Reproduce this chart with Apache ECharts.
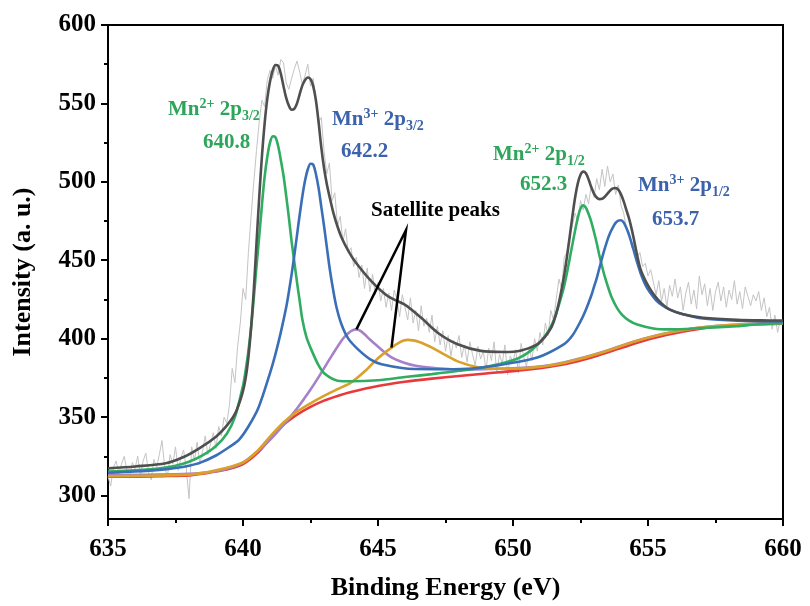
<!DOCTYPE html>
<html>
<head>
<meta charset="utf-8">
<script src="https://cdn.jsdelivr.net/npm/echarts@6/dist/echarts.min.js"></script>
<style>
  html, body { margin: 0; padding: 0; background: #fff; }
  #chart { width: 810px; height: 606px; }
</style>
</head>
<body>
<div id="chart"></div>
<script>
// Mn 2p XPS spectrum: measured counts, Shirley background and fitted components.

// Measured spectrum, 0.1 eV steps starting at 635.0 eV
const rawStart = 635.0;
const rawStep = 0.1;
const rawIntensity = [
  312, 306, 318, 322, 314, 320, 325, 316, 311, 321,
  317, 325, 313, 322, 327, 315, 310, 323, 318, 326,
  335, 318, 312, 326, 320, 331, 316, 324, 329, 317,
  298, 331, 322, 334, 320, 328, 338, 326, 333, 340,
  330, 344, 338, 350, 346, 358, 381, 372, 395, 410,
  432, 425, 455, 478, 500, 520, 538, 552, 548, 565,
  571, 566, 574, 568, 578, 576, 563, 559, 566, 572,
  577, 570, 562, 568, 575, 561, 566, 552, 538, 541,
  520, 505, 512, 488, 493, 472, 478, 462, 470, 455,
  458, 446, 452, 439, 447, 432, 445, 430, 441, 428,
  436, 424, 432, 420, 429, 418, 431, 425, 414, 428,
  420, 412, 426, 410, 418, 405, 421, 408, 413, 404,
  415, 398, 408, 396, 405, 392, 402, 389, 399, 394,
  402, 388, 396, 385, 398, 390, 383, 395, 387, 392,
  380, 394, 386, 398, 378, 390, 384, 396, 377, 389,
  385, 393, 378, 397, 388, 382, 395, 386, 400, 392,
  404, 396, 410, 402, 418, 412, 425, 438, 432, 452,
  455, 466, 472, 480, 475, 488, 482, 492, 486, 498,
  490, 502, 495, 508, 497, 510, 500, 505, 492, 498,
  485, 480, 470, 468, 458, 462, 452, 455, 446, 448,
  440, 444, 436, 428, 437, 424, 432, 420, 434, 427,
  438, 426, 433, 418, 429, 436, 422, 431, 419, 440,
  428, 435, 421, 432, 418, 430, 436, 424, 433, 420,
  431, 425, 437, 422, 430, 419, 433, 427, 421, 428,
  424, 430, 418, 426, 414, 420, 406, 415, 404, 412,
  410
];

// Shirley background
const bgEnergy = [635, 636, 637, 638, 638.5, 639, 639.5, 640, 640.5, 641, 641.5, 642, 642.5, 643, 643.5, 644, 645, 646, 647, 648, 649, 650, 651, 652, 653, 654, 655, 656, 657, 658, 659, 660];
const bgIntensity = [312, 312, 312.3, 312.8, 313.8, 315.3, 317, 320, 326.5, 336, 345, 351.5, 356.5, 360.5, 363.5, 366, 369.8, 372.5, 374.5, 376.2, 377.8, 379.3, 381.2, 384, 388.5, 394, 399.5, 403.5, 406.5, 408.2, 409.2, 409.6];

// Satellite peak 1 (purple)
const sat1Energy = [635, 638, 639, 639.5, 640, 640.5, 641, 641.5, 642, 642.4,
  642.8, 643.3, 643.7, 643.9, 644.05, 644.2, 644.35, 644.5, 644.7, 644.9,
  645.5, 646, 646.4, 647, 647.6, 648.5, 649.5, 650.5, 651.5, 652.5,
  653.5, 654.5, 655.5, 656.5, 657.5, 658.5, 660];
const sat1Intensity = [313, 313.8, 315.5, 317.5, 321, 327.5, 335.5, 345, 355.5, 365,
  375.5, 389.5, 400, 403.5, 405.3, 405.9, 405, 402.8, 399.5, 396.4,
  388, 384.5, 382.7, 381.4, 380.6, 380.4, 380.8, 381.5, 383.5, 387.5,
  392.5, 398.2, 402.8, 406, 408, 409.2, 409.8];

// Satellite peak 2 (orange)
const sat2Energy = [635, 638, 639, 640, 640.5, 641, 641.5, 642, 642.5, 643,
  643.5, 644, 644.5, 645, 645.5, 645.8, 645.95, 646.1, 646.3, 646.5,
  646.75, 647, 647.5, 648, 648.7, 649.5, 650.5, 651.5, 652.5, 653.5,
  654.5, 655.5, 656.5, 657.5, 658.5, 660];
const sat2Intensity = [312.3, 313.3, 316, 321, 327.8, 337.5, 346.5, 353.5, 358.8, 363.5,
  367.8, 372, 379, 387.5, 394.3, 397.6, 398.8, 399.2, 398.9, 398,
  396.3, 394.3, 389.5, 385.2, 381.8, 380.8, 381.2, 383.2, 387.2, 392.3,
  398.2, 402.8, 406, 408, 409.2, 409.9];

// Mn2+ 2p3/2 and 2p1/2 component (green)
const mn2Energy = [635, 636, 637, 637.5, 638, 638.5, 639, 639.4, 639.7, 640.0,
  640.1, 640.2, 640.3, 640.4, 640.5, 640.6, 640.7, 640.8, 640.9, 641.0,
  641.1, 641.2, 641.3, 641.4, 641.5, 641.6, 641.7, 641.8, 641.9, 642.0,
  642.1, 642.2, 642.35, 642.55, 642.8, 643.04, 643.5, 644, 645, 646,
  647, 648, 649, 649.7, 650.2, 650.65, 651.0, 651.2, 651.4, 651.6,
  651.8, 651.9, 652.0, 652.1, 652.2, 652.3, 652.4, 652.5, 652.6, 652.7,
  652.8, 652.9, 653.0, 653.1, 653.2, 653.3, 653.4, 653.5, 653.65, 653.85,
  654.05, 654.3, 654.6, 655.2, 655.81, 657, 658.3, 659, 660];
const mn2Intensity = [315.2, 316, 317.5, 319, 321.5, 325.5, 331.5, 339.4, 350, 370,
  380, 392, 407, 426, 446, 465, 485, 503, 516, 525,
  529, 528.5, 523, 514, 504, 491, 477, 462, 449, 436,
  424, 412, 401, 392.2, 383, 377.4, 373.2, 372.8, 373.5, 375.5,
  377.4, 379.5, 382, 384.8, 387.5, 392.2, 398, 402, 407.5, 416,
  427.5, 434, 442, 451, 460, 469, 477, 483, 485, 483.5,
  479.5, 474.5, 468, 461, 453, 446, 439.5, 434, 426.5, 419.6,
  415, 411.5, 409, 406.5, 405.9, 406.8, 408, 409, 409.8];

// Mn3+ 2p3/2 and 2p1/2 component (blue)
const mn3Energy = [635, 636, 637, 637.5, 638, 638.4, 639, 639.5, 639.85, 640.2,
  640.58, 641.0, 641.2, 641.4, 641.6, 641.7, 641.8, 641.9, 642.0, 642.1,
  642.2, 642.3, 642.4, 642.5, 642.6, 642.7, 642.8, 642.9, 643.0, 643.1,
  643.2, 643.3, 643.45, 643.65, 643.9, 644.27, 644.7, 645.13, 646.36, 647.5,
  648.5, 649.67, 650.9, 651.88, 652.2, 652.5, 652.7, 652.9, 653.0, 653.1,
  653.2, 653.3, 653.4, 653.5, 653.6, 653.7, 653.8, 653.9, 654.0, 654.1,
  654.2, 654.3, 654.4, 654.5, 654.6, 654.75, 654.9, 655.07, 655.3, 655.55,
  655.81, 656.3, 657.04, 658.3, 659.5, 660];
const mn3Intensity = [314.5, 315.3, 316.5, 317.5, 319, 320.8, 325.5, 331, 335.5, 344,
  356.3, 378, 390, 404, 420, 430, 441, 453, 466, 479,
  491, 501, 508, 511.5, 511, 505, 496, 484, 472, 459,
  446, 435, 421, 409, 400, 393, 387, 383.7, 380.6, 380.5,
  381, 383.7, 388, 396.4, 402, 411, 418.5, 427.5, 433, 438.5,
  445, 451.5, 457.5, 463, 467.5, 471, 473.8, 475.3, 475.5, 474,
  470.5, 466, 460.5, 454.5, 448.5, 440.5, 434.5, 429.5, 424.5, 421,
  418.5, 415.5, 412.8, 411.5, 411, 411];

// Fit envelope (dark grey)
const envEnergy = [635, 636, 637.14, 637.8, 638.38, 639, 639.36, 639.7, 639.97, 640.1,
  640.2, 640.3, 640.4, 640.5, 640.6, 640.7, 640.8, 640.9, 641.0, 641.1,
  641.2, 641.3, 641.4, 641.5, 641.6, 641.7, 641.8, 641.9, 642.0, 642.1,
  642.2, 642.3, 642.4, 642.5, 642.6, 642.7, 642.8, 642.9, 643.0, 643.1,
  643.2, 643.35, 643.5, 643.65, 643.9, 644.15, 644.76, 645.37, 645.99, 646.6,
  647.21, 647.95, 648.81, 649.67, 650.3, 650.9, 651.2, 651.4, 651.5, 651.6,
  651.7, 651.8, 651.9, 652.0, 652.1, 652.2, 652.3, 652.4, 652.5, 652.6,
  652.7, 652.8, 652.9, 653.0, 653.1, 653.2, 653.3, 653.4, 653.5, 653.6,
  653.7, 653.8, 653.9, 654.0, 654.1, 654.2, 654.3, 654.4, 654.5, 654.6,
  654.71, 654.85, 655.0, 655.2, 655.5, 655.81, 656.3, 657.04, 658.3, 659.5,
  660];
const envIntensity = [317.3, 318.5, 320.5, 324.5, 330, 337.5, 343.7, 352, 364.7, 375,
  388, 407, 431, 461, 490, 516, 537, 553, 564, 571,
  574.5, 574, 569, 561, 553.5, 548.5, 546, 546.5, 550, 556,
  561.5, 565, 566.5, 565.5, 561, 552, 538, 522, 509, 499,
  491, 480, 471.5, 464.5, 456, 449.2, 436.5, 427, 421.7, 413.3,
  403.8, 396.4, 392.2, 391.5, 392.5, 396.4, 401.5, 406.5, 410.5, 416,
  423, 431.5, 441, 452.5, 465, 478, 490, 499, 504.5, 506.5,
  505.5, 501.5, 496.5, 492.5, 490, 489, 489.2, 490.5, 492.5, 494.5,
  495.8, 496, 495, 492, 487.5, 482, 476.5, 469.5, 461.5, 453,
  445, 439, 434, 428.5, 422.5, 418.5, 415.5, 413.3, 412, 411.6,
  411.5];

// Axis ticks
const xTicksStep = 5;
const yTickLabels = [300, 350, 400, 450, 500, 550, 600];
const yMinorTicks = [325, 375, 425, 475, 525, 575];

const SERIF = '"Times New Roman", "Liberation Serif", serif';
const GREEN = '#2ea55a';
const BLUE = '#3b62ab';

const zip = (xs, ys) => xs.map((x, i) => [x, ys[i]]);
const rawData = rawIntensity.map((v, i) => [+(rawStart + i * rawStep).toFixed(1), v]);

function fitSeries(name, xs, ys, color, width, z) {
  return {
    name, type: 'line', data: zip(xs, ys), smooth: 0.3,
    showSymbol: false, symbol: 'none', silent: true, z,
    lineStyle: { color, width }
  };
}

const chart = echarts.init(document.getElementById('chart'), null, { renderer: 'canvas' });

const axisLineStyle = { color: '#000', width: 2 };

chart.setOption({
  animation: false,
  backgroundColor: '#fff',
  grid: { left: 108, right: 27, top: 25, bottom: 85, show: true, borderColor: '#000', borderWidth: 2, containLabel: false },
  xAxis: {
    type: 'value', min: 635, max: 660, interval: xTicksStep,
    axisLine: { onZero: false, lineStyle: axisLineStyle },
    axisTick: { inside: false, length: 7, lineStyle: axisLineStyle },
    minorTick: { show: true, splitNumber: 2, length: 4, lineStyle: axisLineStyle },
    splitLine: { show: false },
    axisLabel: { margin: 18, color: '#000', fontFamily: SERIF, fontWeight: 'bold', fontSize: 25 },
    name: 'Binding Energy (eV)', nameLocation: 'middle', nameGap: 56,
    nameTextStyle: { color: '#000', fontFamily: SERIF, fontWeight: 'bold', fontSize: 26 }
  },
  yAxis: [
    {
      type: 'value', min: 285, max: 600,
      axisLine: { onZero: false, lineStyle: axisLineStyle },
      axisTick: { inside: false, length: 7, lineStyle: axisLineStyle, customValues: yTickLabels },
      splitLine: { show: false },
      axisLabel: { margin: 12, color: '#000', fontFamily: SERIF, fontWeight: 'bold', fontSize: 25, customValues: yTickLabels },
      name: 'Intensity (a. u.)', nameLocation: 'middle', nameGap: 72,
      nameTextStyle: { color: '#000', fontFamily: SERIF, fontWeight: 'bold', fontSize: 26 }
    },
    {
      type: 'value', min: 285, max: 600, position: 'left',
      axisLine: { show: false },
      axisTick: { inside: false, length: 4, lineStyle: axisLineStyle, customValues: yMinorTicks },
      axisLabel: { show: false },
      splitLine: { show: false }
    }
  ],
  series: [
    { name: 'Raw', type: 'line', data: rawData, showSymbol: false, symbol: 'none', silent: true, z: 1,
      lineStyle: { color: '#c4c4c4', width: 1 } },
    fitSeries('Background', bgEnergy, bgIntensity, '#e8393c', 2.6, 2),
    fitSeries('Satellite 1', sat1Energy, sat1Intensity, '#a681c9', 2.6, 3),
    fitSeries('Satellite 2', sat2Energy, sat2Intensity, '#d9a02b', 2.6, 4),
    fitSeries('Mn2+', mn2Energy, mn2Intensity, '#31ad62', 2.6, 5),
    fitSeries('Mn3+', mn3Energy, mn3Intensity, '#3a6fb8', 2.6, 6),
    fitSeries('Envelope', envEnergy, envIntensity, '#4f4f4f', 2.6, 7)
  ]
});

// Peak captions with super- and subscripts
function caption(x, y, ion, level, color) {
  return {
    type: 'text', x, y, z: 20, silent: true,
    style: {
      text: '{m|Mn}{sup|' + ion + '}{m| 2p}{sub|' + level + '}',
      verticalAlign: 'middle', align: 'left',
      rich: {
        m: { fontFamily: SERIF, fontWeight: 'bold', fontSize: 21, lineHeight: 26, fill: color },
        sup: { fontFamily: SERIF, fontWeight: 'bold', fontSize: 14, lineHeight: 14, verticalAlign: 'top', fill: color },
        sub: { fontFamily: SERIF, fontWeight: 'bold', fontSize: 14, lineHeight: 14, verticalAlign: 'bottom', fill: color }
      }
    }
  };
}
function plain(x, y, text, color, size) {
  return {
    type: 'text', x, y, z: 20, silent: true,
    style: { text, fill: color, fontFamily: SERIF, fontWeight: 'bold', fontSize: size, verticalAlign: 'middle', align: 'left' }
  };
}

// Pointer lines from the "Satellite peaks" caption to the two satellite components
const sat1Peak = sat1Energy.indexOf(644.2);
const sat2Shoulder = sat2Energy.indexOf(645.5);
const tipA = chart.convertToPixel({ gridIndex: 0 }, [sat1Energy[sat1Peak], sat1Intensity[sat1Peak]]);
const tipB = chart.convertToPixel({ gridIndex: 0 }, [sat2Energy[sat2Shoulder], sat2Intensity[sat2Shoulder]]);
const apex = [406, 230];

chart.setOption({
  graphic: [
    caption(168, 110, '2+', '3/2', GREEN),
    plain(203, 143, '640.8', GREEN, 21),
    caption(332, 120, '3+', '3/2', BLUE),
    plain(341, 152, '642.2', BLUE, 21),
    caption(493, 155, '2+', '1/2', GREEN),
    plain(520, 184.5, '652.3', GREEN, 21),
    caption(638, 186, '3+', '1/2', BLUE),
    plain(652, 220, '653.7', BLUE, 21),
    plain(371, 211, 'Satellite peaks', '#000', 21),
    { type: 'polyline', z: 19, silent: true,
      shape: { points: [tipA, apex, tipB] },
      style: { stroke: '#000', lineWidth: 2.5, fill: null } }
  ]
});
</script>
</body>
</html>
